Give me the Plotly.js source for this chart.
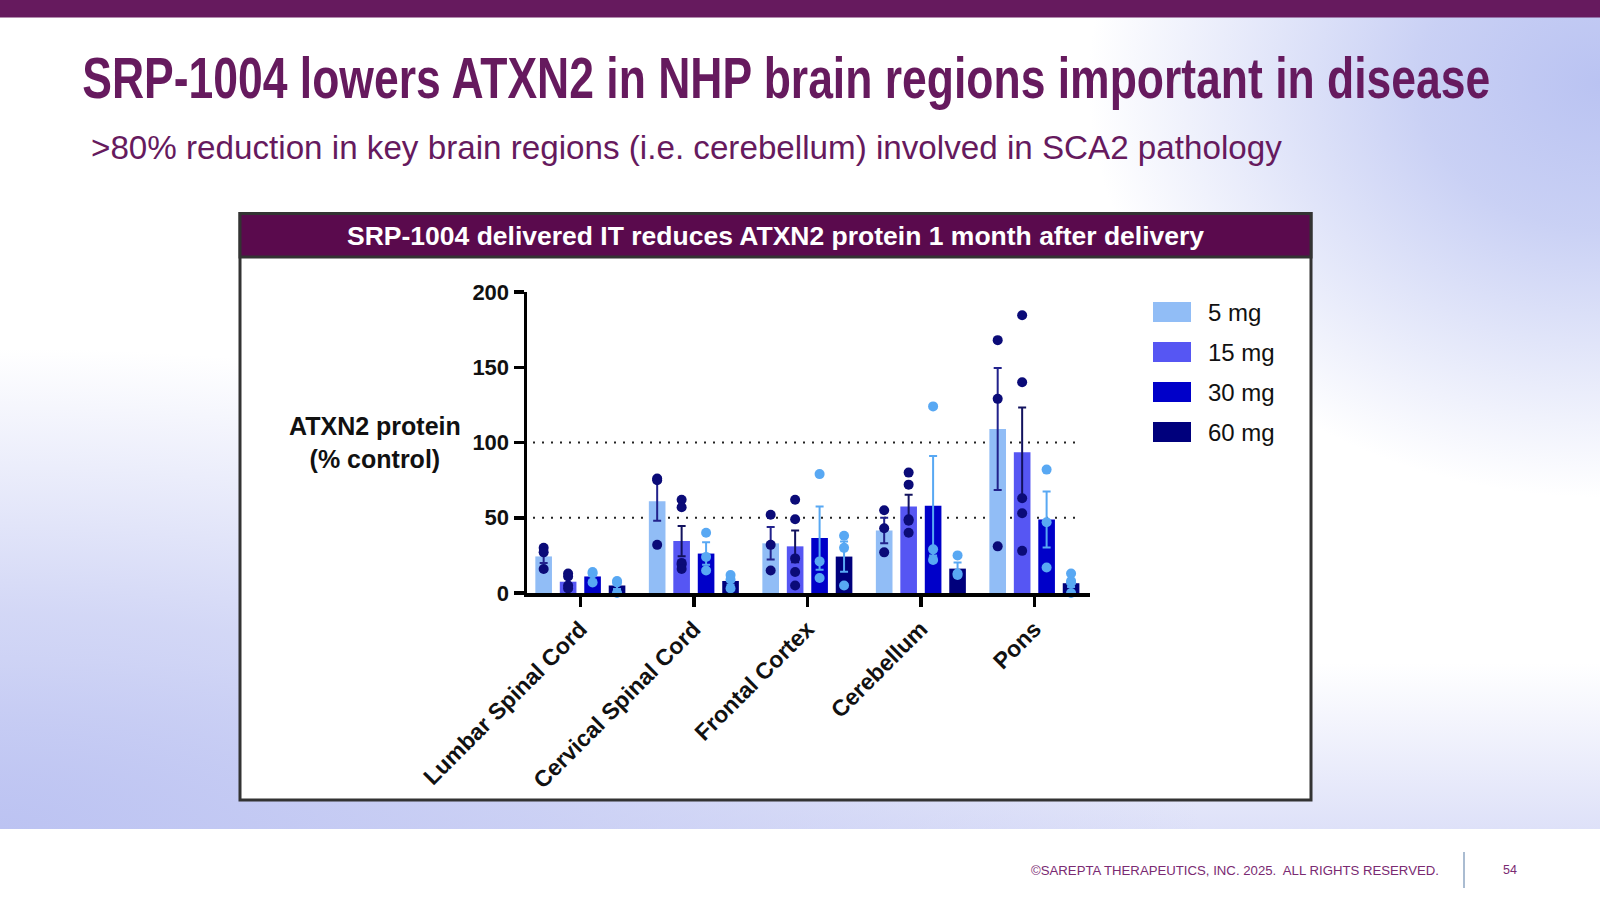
<!DOCTYPE html>
<html>
<head>
<meta charset="utf-8">
<script src="https://cdn.plot.ly/plotly-3.0.1.min.js"></script>
<style>
  html, body { margin:0; padding:0; width:1600px; height:900px; overflow:hidden; background:#ffffff; }
  #bg { position:absolute; left:0; top:0; width:1600px; height:829px;
    background:
      radial-gradient(ellipse 32% 50% at 100% 10%, rgba(186,195,242,1) 0%, rgba(188,197,242,0.8) 35%, rgba(255,255,255,0) 100%),
      radial-gradient(ellipse 75% 58% at 0% 100%, rgba(188,195,242,1) 0%, rgba(196,202,243,0.75) 45%, rgba(255,255,255,0) 100%),
      linear-gradient(to top, rgba(200,205,244,0.6) 0%, rgba(255,255,255,0) 20%),
      #ffffff; }
  #chart { position:absolute; left:0; top:0; width:1600px; height:900px; }
</style>
</head>
<body>
<div id="bg"></div>
<div id="chart"></div>
<script>
// ---------------- data ----------------
const categories = ['Lumbar Spinal Cord', 'Cervical Spinal Cord', 'Frontal Cortex', 'Cerebellum', 'Pons'];
const doses = ['5 mg', '15 mg', '30 mg', '60 mg'];

const mean5  = [24.3, 61, 33, 41.5, 109];
const mean15 = [7.5, 34.5, 31, 57.5, 93.5];
const mean30 = [11, 26.2, 36.5, 58, 48.8];
const mean60 = [5, 8, 24.2, 16.2, 6.5];

const sem5  = [4.3, 13, 10.8, 8.5, 40.5];
const sem15 = [2.3, 10, 10.5, 7.7, 29.7];
const sem30 = [2.2, 7.5, 21, 33, 18.6];
const sem60 = [2.3, 2.6, 10, 4, 2.5];

const pts5  = [[30, 27, 16], [76, 75, 32], [52, 32, 15], [55, 43, 27], [168, 129, 31]];
const pts15 = [[13, 11, 5, 3], [62, 57, 20, 19, 16], [62, 49, 23, 14, 5], [80, 72, 49, 48, 40], [184.5, 140, 63, 53, 28]];
const pts30 = [[14, 13, 7], [40, 24, 15], [79, 21, 10], [124, 29, 22], [82, 47, 17]];
const pts60 = [[8, 7, 0], [12, 9, 3], [38, 30, 5], [25, 13, 12], [13, 8, 7, 0]];

const yTicks = [0, 50, 100, 150, 200];
const refLines = [50, 100];

// ---------------- style ----------------
const barColors = ['#91bdf6', '#5656f3', '#0000c9', '#00007c'];
const dotColors = ['#0b0b78', '#0b0b78', '#58a8f3', '#58a8f3'];
const errColors = ['#22228c', '#12125e', '#58a8f3', '#58a8f3'];
const means = [mean5, mean15, mean30, mean60];
const sems = [sem5, sem15, sem30, sem60];
const pts = [pts5, pts15, pts30, pts60];

const FONT = 'Liberation Sans, Arial, sans-serif';
const PURPLE = '#661a5e';
const TITLE = 'SRP-1004 lowers ATXN2 in NHP brain regions important in disease';
const TITLE_SIZE = 45, TITLE_CAP_SIZE = 57, TITLE_WIDTH = 1408;

// plot-area pixel geometry (for decorations in paper coords)
const L = 527, R = 1090, T = 292, B = 593;
const px = x => (x - L) / (R - L);
const py = y => (B - y) / (B - T);

const traces = [];
doses.forEach((d, i) => {
  traces.push({
    type: 'bar', name: d, x: categories, y: means[i],
    offsetgroup: 'g' + i, showlegend: false,
    marker: { color: barColors[i], line: { width: 0 } },
    error_y: { type: 'data', array: sems[i], visible: true, color: errColors[i], thickness: 2, width: 4 },
    hoverinfo: 'skip'
  });
});
doses.forEach((d, i) => {
  const xs = [], ys = [];
  pts[i].forEach((arr, k) => arr.forEach(v => { xs.push(categories[k]); ys.push(v); }));
  traces.push({
    type: 'scatter', mode: 'markers', name: d + ' points', x: xs, y: ys,
    offsetgroup: 'g' + i, showlegend: false, cliponaxis: false,
    marker: { color: dotColors[i], size: 10, line: { width: 0 } },
    hoverinfo: 'skip'
  });
});

const shapes = [
  { type: 'rect', xref: 'paper', yref: 'paper', x0: px(0), x1: px(1600), y0: py(0), y1: py(17.5),
    fillcolor: PURPLE, line: { width: 0 }, layer: 'below' },
  { type: 'rect', xref: 'paper', yref: 'paper', x0: px(240), x1: px(1311), y0: py(213.5), y1: py(800),
    fillcolor: '#ffffff', line: { color: '#333333', width: 3 }, layer: 'below' },
  { type: 'rect', xref: 'paper', yref: 'paper', x0: px(240), x1: px(1311), y0: py(213.5), y1: py(257),
    fillcolor: '#5a0a4d', line: { color: '#333333', width: 3 }, layer: 'below' },
  { type: 'line', xref: 'paper', yref: 'paper', x0: px(1464), x1: px(1464), y0: py(852), y1: py(888),
    line: { color: '#8ea6c2', width: 1.5 } }
];
refLines.forEach(v => shapes.push({
  type: 'line', xref: 'paper', yref: 'y', x0: px(533), x1: px(1082), y0: v, y1: v,
  line: { color: '#222222', width: 2.2, dash: '2px,7px' }, layer: 'below'
}));
doses.forEach((d, i) => {
  const cy = 312 + i * 40;
  shapes.push({ type: 'rect', xref: 'paper', yref: 'paper', x0: px(1153), x1: px(1191),
    y0: py(cy - 10), y1: py(cy + 10), fillcolor: barColors[i], line: { width: 0 } });
});

const annotations = [
  { text: TITLE,
    xref: 'paper', yref: 'paper', x: px(786), y: py(79), xanchor: 'center', yanchor: 'middle', showarrow: false,
    font: { family: FONT, size: TITLE_SIZE, color: PURPLE, weight: 'bold' } },
  { text: '>80% reduction in key brain regions (i.e. cerebellum) involved in SCA2 pathology',
    xref: 'paper', yref: 'paper', x: px(89), y: py(147), xanchor: 'left', yanchor: 'middle', showarrow: false,
    font: { family: FONT, size: 33.2, color: PURPLE } },
  { text: 'SRP-1004 delivered IT reduces ATXN2 protein 1 month after delivery',
    xref: 'paper', yref: 'paper', x: px(775.5), y: py(236), xanchor: 'center', yanchor: 'middle', showarrow: false,
    font: { family: FONT, size: 26.5, color: '#ffffff', weight: 'bold' } },
  { text: '<b>ATXN2 protein<br>(% control)</b>',
    xref: 'paper', yref: 'paper', x: px(375), y: py(442), xanchor: 'center', yanchor: 'middle', showarrow: false,
    align: 'center', font: { family: FONT, size: 25, color: '#111111' } },
  { text: '©SAREPTA THERAPEUTICS, INC. 2025.  ALL RIGHTS RESERVED.',
    xref: 'paper', yref: 'paper', x: px(1029), y: py(870), xanchor: 'left', yanchor: 'middle', showarrow: false,
    font: { family: FONT, size: 13.2, color: '#7a2a72' } },
  { text: '54',
    xref: 'paper', yref: 'paper', x: px(1510), y: py(870), xanchor: 'center', yanchor: 'middle', showarrow: false,
    font: { family: FONT, size: 12.5, color: '#7a2a72' } }
];
doses.forEach((d, i) => {
  annotations.push({ text: d, xref: 'paper', yref: 'paper', x: px(1206), y: py(312 + i * 40),
    xanchor: 'left', yanchor: 'middle', showarrow: false,
    font: { family: FONT, size: 24, color: '#111111' } });
});

const layout = {
  width: 1600, height: 900,
  margin: { l: L, r: 1600 - R, t: T, b: 900 - B, pad: 0 },
  paper_bgcolor: 'rgba(0,0,0,0)', plot_bgcolor: 'rgba(0,0,0,0)',
  barmode: 'group', bargap: 0.138, bargroupgap: 0.32,
  scattermode: 'group', scattergap: 0.138,
  showlegend: false,
  xaxis: {
    type: 'category', range: [-0.47, 4.49], showgrid: false, zeroline: false,
    showline: true, linecolor: '#000000', linewidth: 3.5,
    ticks: 'outside', ticklen: 10, tickwidth: 3.5, tickcolor: '#000000',
    tickangle: -45, tickfont: { family: FONT, size: 23, color: '#111111', weight: 'bold' }
  },
  yaxis: {
    range: [0, 200], showgrid: false, zeroline: false,
    showline: true, linecolor: '#000000', linewidth: 3.5,
    ticks: 'outside', ticklen: 10, tickwidth: 3.5, tickcolor: '#000000',
    tickvals: yTicks, ticktext: yTicks.map(String),
    tickfont: { family: FONT, size: 22, color: '#111111', weight: 'bold' }
  },
  shapes: shapes,
  annotations: annotations
};

Plotly.newPlot('chart', traces, layout, { staticPlot: true, displayModeBar: false }).then(gd => {
  // Reference title uses a tall condensed typeface: fit the width and stretch the height.
  gd.querySelectorAll('text.annotation-text').forEach(t => {
    if (t.textContent === TITLE) {
      t.setAttribute('textLength', String(TITLE_WIDTH));
      t.setAttribute('lengthAdjust', 'spacingAndGlyphs');
      const b = t.getBBox();
      const cy = b.y + b.height / 2;
      const prev = t.getAttribute('transform') || '';
      t.setAttribute('transform', prev + ' translate(0 ' + cy + ') scale(1 ' + (TITLE_CAP_SIZE / TITLE_SIZE) + ') translate(0 ' + (-cy) + ')');
    }
  });
});
</script>
</body>
</html>
